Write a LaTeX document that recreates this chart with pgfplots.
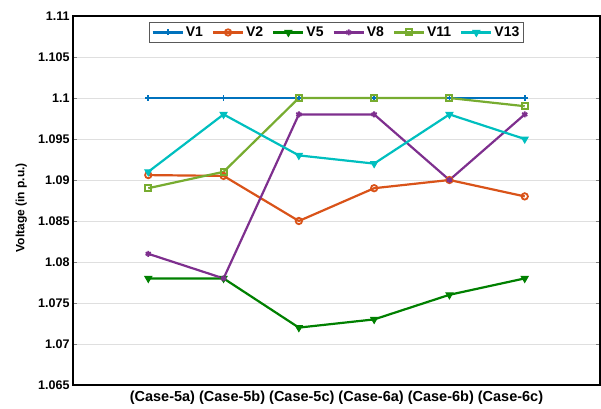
\documentclass[border=0pt]{standalone}
\usepackage{fontspec}
\setmainfont{Liberation Sans}
\usepackage{pgfplots}
\pgfplotsset{compat=1.18}

\definecolor{cVone}{rgb}{0,0.447,0.741}
\definecolor{cVtwo}{rgb}{0.85,0.325,0.098}
\definecolor{cVfive}{rgb}{0,0.5,0}
\definecolor{cVeight}{rgb}{0.494,0.184,0.556}
\definecolor{cVeleven}{rgb}{0.466,0.674,0.188}
\definecolor{cVthirteen}{rgb}{0,0.75,0.75}

\begin{document}
\begin{tikzpicture}
\useasboundingbox (-73pt,-23pt) rectangle (528pt,385pt);
\begin{axis}[
    scale only axis,
    width=527pt,
    height=369pt,
    xmin=0, xmax=7,
    ymin=1.065, ymax=1.11,
    xtick=\empty,
    ytick={1.065,1.07,1.075,1.08,1.085,1.09,1.095,1.1,1.105,1.11},
    yticklabel style={/pgf/number format/fixed, /pgf/number format/precision=3,
        /pgf/number format/assume math mode=true, font=\fontsize{12.5}{14}\selectfont\bfseries},
    tick align=inside,
    major tick length=4pt,
    ymajorgrids,
    grid style={gray!25, line width=0.8pt},
    axis line style={line width=1.3pt},
    xlabel={(Case-5a) (Case-5b) (Case-5c) (Case-6a) (Case-6b) (Case-6c)},
    xlabel style={font=\fontsize{14.5}{16}\selectfont\bfseries, at={(axis description cs:0.5,0)}, anchor=north, yshift=-2pt},
    ylabel={Voltage (in p.u.)},
    ylabel style={font=\fontsize{12}{14}\selectfont\bfseries, at={(axis description cs:-0.098,0.48)}, anchor=center},
    legend columns=6,
    legend style={at={(0.5,0.984)}, anchor=north, font=\fontsize{14}{16}\selectfont\bfseries,
        draw=gray!70!black, line width=0.8pt, inner sep=2.5pt,
        /tikz/every even column/.append style={column sep=7pt}},
    legend image code/.code={
        \draw[mark repeat=2, mark phase=2] plot coordinates {(0pt,0pt) (15pt,0pt) (30pt,0pt)};
    },
]

\addplot[color=cVone, line width=2.2pt, mark=+, mark size=3pt, mark options={line width=1.8pt}]
coordinates {(1,1.1) (2,1.1) (3,1.1) (4,1.1) (5,1.1) (6,1.1)};
\addlegendentry{V1}

\addplot[color=cVtwo, line width=2.2pt, mark=o, mark size=3.2pt, mark options={line width=1.8pt}]
coordinates {(1,1.0906) (2,1.0905) (3,1.085) (4,1.089) (5,1.090) (6,1.088)};
\addlegendentry{V2}

\addplot[color=cVfive, line width=2.2pt, mark=triangle*, mark size=4pt, mark options={rotate=180, line width=1pt}]
coordinates {(1,1.078) (2,1.078) (3,1.072) (4,1.073) (5,1.076) (6,1.078)};
\addlegendentry{V5}

\addplot[color=cVeight, line width=2.2pt, mark=asterisk, mark size=3pt, mark options={line width=1.8pt}]
coordinates {(1,1.081) (2,1.078) (3,1.098) (4,1.098) (5,1.090) (6,1.098)};
\addlegendentry{V8}

\addplot[color=cVeleven, line width=2.2pt, mark=square, mark size=3pt, mark options={line width=2pt}]
coordinates {(1,1.089) (2,1.091) (3,1.1) (4,1.1) (5,1.1) (6,1.099)};
\addlegendentry{V11}

\addplot[color=cVthirteen, line width=2.2pt, mark=triangle*, mark size=4pt, mark options={rotate=180, line width=1pt}]
coordinates {(1,1.091) (2,1.098) (3,1.093) (4,1.092) (5,1.098) (6,1.095)};
\addlegendentry{V13}

\end{axis}
\end{tikzpicture}
\end{document}
